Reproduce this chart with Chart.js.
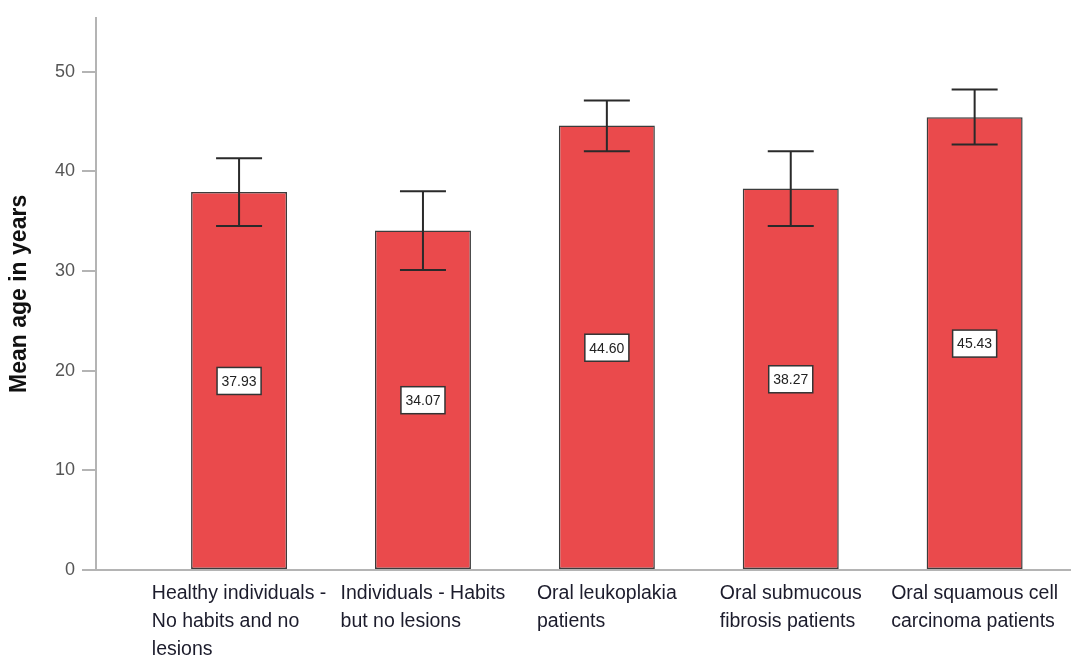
<!DOCTYPE html>
<html>
<head>
<meta charset="utf-8">
<script src="https://cdn.jsdelivr.net/npm/chart.js@4/dist/chart.umd.min.js"></script>
<style>
    html, body { margin: 0; padding: 0; background: #fff; }
    #wrap { width: 1071px; height: 655px; position: relative; }
</style>
</head>
<body>
<div id="wrap"><canvas id="ageChart"></canvas></div>
<script>
// group labels (one entry per line of the axis label)
const categories = [
    ['Healthy individuals -', 'No habits and no', 'lesions'],
    ['Individuals - Habits', 'but no lesions'],
    ['Oral leukoplakia', 'patients'],
    ['Oral submucous', 'fibrosis patients'],
    ['Oral squamous cell', 'carcinoma patients']
];
const meanAge = [37.93, 34.07, 44.60, 38.27, 45.43];
const ciUpper = [41.3, 38.0, 47.1, 42.0, 48.2];
const ciLower = [34.5, 30.1, 42.0, 34.5, 42.7];
const yTicks = [0, 10, 20, 30, 40, 50];

const AXIS_GREY = '#b4b4b4';

// error bars with caps
const errorBars = {
    id: 'errorBars',
    afterDatasetsDraw(chart) {
        const { ctx, scales: { x, y } } = chart;
        ctx.save();
        ctx.strokeStyle = '#2a2a2a';
        ctx.lineWidth = 2;
        meanAge.forEach((m, i) => {
            const cx = x.getPixelForValue(i);
            const top = y.getPixelForValue(ciUpper[i]);
            const bot = y.getPixelForValue(ciLower[i]);
            ctx.beginPath();
            ctx.moveTo(cx, top);
            ctx.lineTo(cx, bot);
            ctx.moveTo(cx - 23, top);
            ctx.lineTo(cx + 23, top);
            ctx.moveTo(cx - 23, bot);
            ctx.lineTo(cx + 23, bot);
            ctx.stroke();
        });
        ctx.restore();
    }
};

// boxed value labels at half the bar height
const valueBoxes = {
    id: 'valueBoxes',
    afterDatasetsDraw(chart) {
        const { ctx, scales: { x, y } } = chart;
        ctx.save();
        ctx.font = '14px "Liberation Sans", Arial, sans-serif';
        ctx.textAlign = 'center';
        ctx.textBaseline = 'middle';
        meanAge.forEach((m, i) => {
            const cx = x.getPixelForValue(i);
            const cy = y.getPixelForValue(m / 2);
            const text = m.toFixed(2);
            const w = ctx.measureText(text).width + 9;
            const h = 27;
            ctx.fillStyle = '#fff';
            ctx.fillRect(cx - w / 2, cy - h / 2, w, h);
            ctx.strokeStyle = '#333';
            ctx.lineWidth = 1.5;
            ctx.strokeRect(cx - w / 2, cy - h / 2, w, h);
            ctx.fillStyle = '#222';
            ctx.fillText(text, cx, cy + 1);
        });
        ctx.restore();
    }
};

// category labels: lines left aligned, block centred under the bar
const categoryLabels = {
    id: 'categoryLabels',
    afterDraw(chart) {
        const { ctx, scales: { x, y } } = chart;
        ctx.save();
        ctx.font = '19.5px "Liberation Sans", Arial, sans-serif';
        ctx.fillStyle = '#1c1c2c';
        ctx.textAlign = 'left';
        ctx.textBaseline = 'alphabetic';
        categories.forEach((lines, i) => {
            const cx = x.getPixelForValue(i);
            const widest = Math.max(...lines.map(l => ctx.measureText(l).width));
            const left = cx - widest / 2;
            lines.forEach((line, j) => {
                ctx.fillText(line, left, y.bottom + 29 + j * 28);
            });
        });
        ctx.restore();
    }
};

new Chart(document.getElementById('ageChart'), {
    type: 'bar',
    data: {
        datasets: [{
            label: 'Mean age',
            data: meanAge.map((v, i) => ({ x: i, y: v })),
            backgroundColor: '#ea4a4c',
            borderColor: '#3c3c3c',
            borderWidth: 1.5,
            borderSkipped: false,
            barPercentage: 1,
            categoryPercentage: 0.522
        }]
    },
    options: {
        responsive: true,
        maintainAspectRatio: false,
        animation: false,
        layout: {
            padding: { top: 15, bottom: 85, left: 0, right: 0 }
        },
        plugins: {
            legend: { display: false },
            tooltip: { enabled: false }
        },
        scales: {
            x: {
                type: 'linear',
                offset: false,
                min: -0.778,
                max: 4.524,
                afterBuildTicks(scale) {
                    scale.ticks = categories.map((c, i) => ({ value: i }));
                },
                grid: { display: false, drawTicks: false },
                ticks: { display: false },
                border: { display: true, color: AXIS_GREY, width: 2 }
            },
            y: {
                min: 0,
                max: 55.4,
                afterFit(scale) { scale.width = 96; },
                afterBuildTicks(scale) {
                    scale.ticks = yTicks.map(v => ({ value: v }));
                },
                grid: {
                    drawOnChartArea: false,
                    drawTicks: true,
                    tickLength: 14,
                    color: AXIS_GREY,
                    lineWidth: 2
                },
                border: { display: true, color: AXIS_GREY, width: 2 },
                ticks: {
                    padding: 7,
                    color: '#555',
                    font: { family: '"Liberation Sans", Arial, sans-serif', size: 18 }
                },
                title: {
                    display: true,
                    text: 'Mean age in years',
                    color: '#111',
                    padding: { top: 6, bottom: 0 },
                    font: { family: '"Liberation Sans", Arial, sans-serif', size: 23, weight: 'bold' }
                }
            }
        }
    },
    plugins: [errorBars, valueBoxes, categoryLabels]
});
</script>
</body>
</html>
